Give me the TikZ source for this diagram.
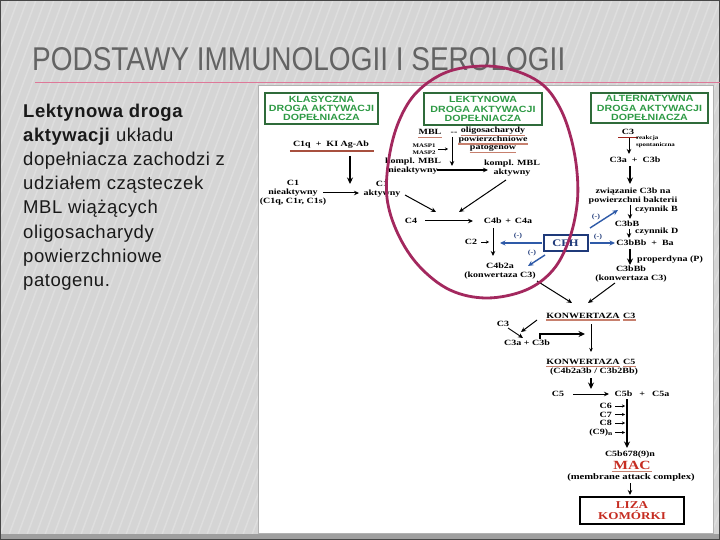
\documentclass[tikz,border=0pt]{standalone}
\usepackage{fontspec}
\usepackage{graphicx}
\setmainfont{Liberation Serif}
\setsansfont{Liberation Sans}
\newfontfamily\dfont[FakeStretch=1.25]{Liberation Serif}
\newfontfamily\gfont[FakeStretch=1.18]{Liberation Sans}
\newfontfamily\lfont[LetterSpace=3]{Liberation Sans}
\usetikzlibrary{arrows.meta}
\definecolor{bgray}{HTML}{D5D5D5}
\definecolor{titlegray}{HTML}{636363}
\definecolor{pinkline}{HTML}{DE7898}
\definecolor{gborder}{HTML}{2F6B3A}
\definecolor{gtext}{HTML}{2E9A45}
\definecolor{bluearr}{HTML}{2E5AA8}
\definecolor{navy}{HTML}{1F3A7A}
\definecolor{ulcol}{HTML}{C7806E}
\definecolor{ulred}{HTML}{A8503F}
\definecolor{redtxt}{HTML}{C62D22}
\definecolor{circ}{HTML}{A3285E}
\begin{document}
\begin{tikzpicture}[x=1pt,y=-1pt,
 lbl/.style={font=\dfont\bfseries\fontsize{8}{9}\selectfont, inner sep=0pt, align=center},
 tinylbl/.style={font=\dfont\bfseries\fontsize{5.5}{6.5}\selectfont, inner sep=0pt, align=left},
 mlbl/.style={font=\dfont\bfseries\fontsize{6.5}{7}\selectfont, inner sep=0pt, text=navy},
 gbox/.style={draw=gborder, line width=1.3pt, fill=white, text=gtext, font=\gfont\bfseries\fontsize{9}{9.2}\selectfont, align=center, inner sep=0pt},
 arr/.style={line width=1pt, -{Stealth[length=5pt,width=4.5pt]}},
 tarr/.style={line width=1.7pt, -{Stealth[length=6.5pt,width=6pt]}},
 sarr/.style={line width=0.7pt, -{Stealth[length=3pt,width=3pt]}},
 barr/.style={draw=bluearr, line width=1.4pt, -{Stealth[length=5.5pt,width=5pt]}},
 ul/.style={draw=ulcol, line width=1.1pt},
 ltxt/.style={anchor=base west, inner sep=0pt, font=\lfont\fontsize{18.5}{24}\selectfont, text=black!90},
]
\useasboundingbox (0,0) rectangle (720,540);
% background
\fill[bgray] (0,0) rectangle (720,540);
\begin{scope}
\clip (0,0) rectangle (720,540);
\foreach \x in {-200,-191,...,720} \draw[white, opacity=0.22, line width=1.5pt] (\x,540) -- (\x+200,0);
\end{scope}
\fill[gray!75] (0,534) rectangle (720,540);
\draw[gray!55!black, line width=1.2pt] (0.6,0.6) rectangle (719.4,539.4);
% title
\node[anchor=base west, inner sep=0pt, text=titlegray] (title) at (32,71) {\resizebox{533pt}{23pt}{\sffamily\fontsize{28}{28}\selectfont PODSTAWY IMMUNOLOGII I SEROLOGII}};
\coordinate (pl1) at (35,82.5); \coordinate (pl2) at (720,82.5);
\draw[pinkline, line width=1.6pt] (pl1) -- (pl2);
% panel
\fill[white] (258,85) rectangle (713,533);
\draw[gray!60, line width=0.5pt] (258,85) rectangle (713,533);
% left text
\node[ltxt] (t1) at (23,118) {\textbf{Lektynowa droga}};
\node[ltxt] (t2) at (23,142) {\textbf{aktywacji} układu};
\node[ltxt] (t3) at (23,166) {dopełniacza zachodzi z};
\node[ltxt] (t4) at (23,190) {udziałem cząsteczek};
\node[ltxt] (t5) at (23,214) {MBL wiążących};
\node[ltxt] (t6) at (23,238) {oligosacharydy};
\node[ltxt] (t7) at (23,262) {powierzchniowe};
\node[ltxt] (t8) at (23,286) {patogenu.};
% green boxes
\node[gbox, minimum width=113pt, minimum height=31pt] (gk) at (321.5,108.5) {KLASYCZNA\\DROGA AKTYWACJI\\DOPEŁNIACZA};
\node[gbox, minimum width=118pt, minimum height=32pt] (gl) at (483,109) {LEKTYNOWA\\DROGA AKTYWACJI\\DOPEŁNIACZA};
\node[gbox, minimum width=117pt, minimum height=30pt] (ga) at (649.5,108) {ALTERNATYWNA\\DROGA AKTYWACJI\\DOPEŁNIACZA};
% classic pathway
\node[lbl, anchor=base] (c1q) at (331,147) {C1q\ \ +\ \ KI Ag-Ab};
\draw[ulred, line width=1.8pt] ([xshift=-3pt,yshift=-4pt]c1q.base west) -- ([xshift=5pt,yshift=-4pt]c1q.base east);
\coordinate (p1) at (350,156); \coordinate (p2) at (350,184);
\draw[tarr] (p1) -- (p2);
\node[lbl] (c1n) at (293,193) {C1\\nieaktywny\\(C1q, C1r, C1s)};
\node[lbl] (c1a) at (382,189) {C1\\aktywny};
\coordinate (p3) at (323,193); \coordinate (p4) at (359,193);
\draw[arr] (p3) -- (p4);
\node[lbl] (c4) at (411,221) {C4};
\coordinate (p5) at (405,195); \coordinate (p6) at (436,212);
\draw[arr] (p5) -- (p6);
% lectin pathway
\node[lbl, anchor=base] (mbl) at (430,135) {MBL};
\draw[ul] ([yshift=-2.5pt]mbl.base west) -- ([yshift=-2.5pt]mbl.base east);
\node[lbl] (dash) at (454,133) {--};
\node[lbl, anchor=base] (ol1) at (493,133) {oligosacharydy};
\node[lbl, anchor=base] (ol2) at (493,141.5) {powierzchniowe};
\node[lbl, anchor=base] (ol3) at (493,150) {patogenów};
\foreach \n in {ol1,ol2,ol3} \draw[ul] ([yshift=-2.5pt]\n.base west) -- ([yshift=-2.5pt]\n.base east);
\node[tinylbl] (masp) at (424,149) {MASP1\\MASP2};
\coordinate (p7) at (438,149); \coordinate (p8) at (448,149);
\draw[sarr] (p7) -- (p8);
\coordinate (p9) at (452,137); \coordinate (p10) at (452,166);
\draw[arr] (p9) -- (p10);
\node[lbl] (kmn) at (413,166) {kompl. MBL\\nieaktywny};
\node[lbl] (kma) at (512,168) {kompl. MBL\\aktywny};
\coordinate (p11) at (437,170); \coordinate (p12) at (488,170);
\draw[arr, line width=1.4pt] (p11) -- (p12);
\coordinate (p13) at (506,180); \coordinate (p14) at (459,212);
\draw[arr] (p13) -- (p14);
\coordinate (p15) at (425,221); \coordinate (p16) at (473,221);
\draw[arr] (p15) -- (p16);
\node[lbl] (c4b) at (508,221) {C4b \,+\, C4a};
\node[lbl] (c2) at (471,242) {C2};
\coordinate (p17) at (481,242); \coordinate (p18) at (489,242);
\draw[sarr] (p17) -- (p18);
\coordinate (p19) at (493,228); \coordinate (p20) at (493,256);
\draw[arr] (p19) -- (p20);
\node[lbl] (c4b2a) at (500,271) {C4b2a\\(konwertaza C3)};
% CFH
\node[draw=navy, line width=2pt, fill=white, text=navy, font=\dfont\bfseries\fontsize{10}{10}\selectfont, minimum width=44pt, minimum height=16pt, inner sep=0pt] (cfh) at (565.5,243) {CFH};
\coordinate (p21) at (500,243);
\draw[barr] ([xshift=-1pt]cfh.west) -- (p21);
\node[mlbl] (m1) at (518,236) {(-)};
\coordinate (p22) at (545,255); \coordinate (p23) at (528,266);
\draw[barr] (p22) -- (p23);
\node[mlbl] (m2) at (532,253) {(-)};
\coordinate (p24) at (615,243);
\draw[barr] ([xshift=1pt]cfh.east) -- (p24);
\node[mlbl] (m3) at (598,237) {(-)};
\coordinate (p25) at (590,228); \coordinate (p26) at (618,210);
\draw[barr] (p25) -- (p26);
\node[mlbl] (m4) at (596,217) {(-)};
% alternative pathway
\node[lbl, anchor=base] (c3t) at (628,135) {C3};
\coordinate (r1) at (618,137.5); \coordinate (r2) at (638,137.5);
\draw[redtxt!80!black, line width=1.2pt] (r1) -- (r2);
\coordinate (p27) at (629,138); \coordinate (p28) at (629,154);
\draw[arr] (p27) -- (p28);
\node[tinylbl, anchor=west] (spont) at (636,141.5) {reakcja\\spontaniczna};
\node[lbl] (c3ab) at (635,160) {C3a \ + \ C3b};
\coordinate (p29) at (630,166); \coordinate (p30) at (630,184);
\draw[tarr] (p29) -- (p30);
\node[lbl] (bind) at (633,196) {związanie C3b na\\powierzchni bakterii};
\coordinate (p31) at (630,205); \coordinate (p32) at (630,219);
\draw[arr] (p31) -- (p32);
\node[lbl, anchor=west] (czB) at (635,209.5) {czynnik B};
\node[lbl] (c3bB) at (627,224) {C3bB};
\coordinate (p33) at (629,229); \coordinate (p34) at (629,238);
\draw[arr] (p33) -- (p34);
\node[lbl, anchor=west] (czD) at (635,232) {czynnik D};
\node[lbl] (c3bBb) at (645,243) {C3bBb \ + \ Ba};
\coordinate (p35) at (630,249); \coordinate (p36) at (630,265);
\draw[tarr] (p35) -- (p36);
\node[lbl, anchor=west] (prop) at (637,260) {properdyna (P)};
\node[lbl] (c3conv) at (631,274.5) {C3bBb\\(konwertaza C3)};
% convergence
\coordinate (p37) at (537,281); \coordinate (p38) at (572,303);
\draw[arr] (p37) -- (p38);
\coordinate (p39) at (615,283); \coordinate (p40) at (588,303);
\draw[arr] (p39) -- (p40);
\node[lbl, anchor=base] (kc3) at (583,318) {KONWERTAZA};
\node[lbl, anchor=base west] (kc3n) at ([xshift=3pt]kc3.base east) {C3};
\foreach \n in {kc3,kc3n} \draw[ul] ([yshift=-2pt]\n.base west) -- ([yshift=-2pt]\n.base east);
\node[lbl] (c3s) at (503,324) {C3};
\coordinate (p41) at (537,320); \coordinate (p42) at (521,332);
\draw[arr] (p41) -- (p42);
\coordinate (p43) at (508,328); \coordinate (p44) at (523,338);
\draw[arr, line width=0.9pt] (p43) -- (p44);
\node[lbl] (c3ab2) at (527,343) {C3a + C3b};
\coordinate (p45) at (540,339); \coordinate (p46) at (540,334); \coordinate (p47) at (585,334);
\draw[tarr] (p45) -- (p46) -- (p47);
\coordinate (p48) at (591,324); \coordinate (p49) at (591,352);
\draw[line width=0.8pt, -{Stealth[length=4pt,width=3.5pt]}] (p48) -- (p49);
\node[lbl, anchor=base] (kc5) at (583,364.5) {KONWERTAZA};
\node[lbl, anchor=base west] (kc5n) at ([xshift=3pt]kc5.base east) {C5};
\foreach \n in {kc5,kc5n} \draw[ul] ([yshift=-2pt]\n.base west) -- ([yshift=-2pt]\n.base east);
\node[lbl] (kc5f) at (594,372) {(C4b2a3b / C3b2Bb)};
\coordinate (p50) at (591,378); \coordinate (p51) at (591,389);
\draw[tarr] (p50) -- (p51);
\node[lbl] (c5) at (558,394) {C5};
\coordinate (p52) at (573,394); \coordinate (p53) at (609,394);
\draw[arr] (p52) -- (p53);
\node[lbl] (c5b) at (642,394) {C5b\hspace{7pt}+\hspace{7pt}C5a};
\coordinate (p54) at (627,399); \coordinate (p55) at (627,448);
\draw[tarr] (p54) -- (p55);
\node[lbl, anchor=east] (c6) at (612,406) {C6};
\node[lbl, anchor=east] (c7) at (612,414.5) {C7};
\node[lbl, anchor=east] (c8) at (612,423) {C8};
\node[lbl, anchor=east] (c9) at (613,432.5) {(C9)\textsubscript{n}};
\foreach \yy/\nm in {406/q1,414.5/q2,423/q3,432.5/q4} {
  \coordinate (\nm a) at (615,\yy); \coordinate (\nm b) at (625,\yy);
  \draw[sarr] (\nm a) -- (\nm b);
}
\node[lbl] (mac0) at (630,455) {C5b678(9)n};
\node[lbl, text=redtxt, font=\dfont\bfseries\fontsize{12.5}{13}\selectfont, anchor=base] (mac) at (632,469.5) {MAC};
\draw[ul] ([xshift=-1pt,yshift=-2pt]mac.base west) -- ([xshift=1pt,yshift=-2pt]mac.base east);
\node[lbl, font=\dfont\bfseries\fontsize{8.5}{9}\selectfont] (mem) at (631,477.5) {(membrane attack complex)};
\coordinate (p56) at (630,483); \coordinate (p57) at (630,495);
\draw[arr] (p56) -- (p57);
\node[draw=black, line width=1.3pt, minimum width=104pt, minimum height=27pt, align=center, text=redtxt, font=\dfont\bfseries\fontsize{10.5}{11.5}\selectfont, inner sep=0pt] (liza) at (632,510.5) {LIZA\\KOMÓRKI};
% highlight circle
\draw[circ, line width=2.8pt] plot[smooth cycle, tension=0.6] coordinates {(484,66) (516,71) (543,85) (560,108) (571,138) (577,172) (577,205) (569,240) (553,270) (526,290) (487,298) (450,290) (419,266) (398,234) (387,198) (389,158) (399,121) (417,92) (447,72)};
\end{tikzpicture}
\end{document}
